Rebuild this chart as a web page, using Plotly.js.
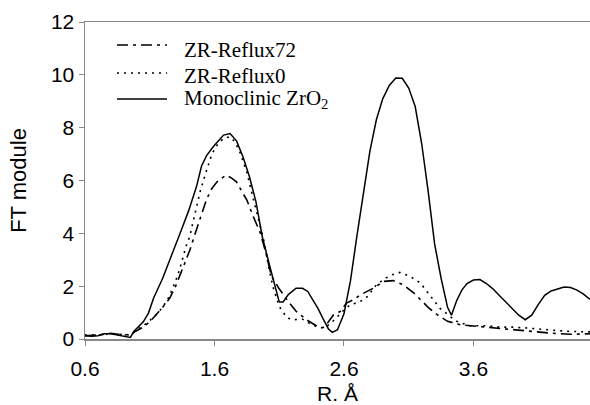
<!DOCTYPE html>
<html>
<head>
<meta charset="utf-8">
<script src="https://cdn.plot.ly/plotly-3.0.1.min.js"></script>
<style>html,body{margin:0;padding:0;background:#fff;}#chart{width:590px;height:405px;}</style>
</head>
<body>
<div id="chart"></div>
<script>
// ZR-Reflux72 (dash-dot)
const xReflux72 = [0.6,0.7,0.8,0.9,0.95,1.0,1.05,1.1,1.15,1.2,1.255,1.3,1.33,1.37,1.41,1.46,1.5,1.54,1.58,1.62,1.66,1.69,1.73,1.77,1.81,1.85,1.9,1.955,2.0,2.04,2.1,2.16,2.23,2.31,2.37,2.415,2.45,2.52,2.57,2.62,2.68,2.725,2.83,2.905,2.98,3.06,3.14,3.19,3.25,3.32,3.4,3.5,3.63,3.8,4.0,4.2,4.35,4.5];
const yReflux72 = [0.12,0.15,0.22,0.15,0.18,0.3,0.45,0.65,0.92,1.2,1.55,2.0,2.37,2.9,3.37,4.13,4.7,5.3,5.7,5.95,6.1,6.2,6.1,5.95,5.6,5.26,4.63,4.0,3.2,2.37,1.9,1.48,1.05,0.73,0.55,0.42,0.45,0.92,1.04,1.36,1.5,1.67,1.93,2.18,2.21,2.05,1.74,1.48,1.2,0.92,0.67,0.54,0.48,0.38,0.3,0.22,0.18,0.2];

// ZR-Reflux0 (dotted)
const xReflux0 = [0.6,0.7,0.8,0.9,0.95,1.0,1.05,1.1,1.15,1.2,1.25,1.3,1.33,1.38,1.41,1.45,1.49,1.54,1.58,1.62,1.67,1.72,1.76,1.8,1.85,1.9,1.95,1.98,2.02,2.05,2.1,2.16,2.21,2.28,2.33,2.4,2.45,2.5,2.55,2.6,2.65,2.72,2.78,2.85,2.92,2.97,3.03,3.11,3.19,3.24,3.29,3.34,3.42,3.47,3.57,3.7,3.8,3.9,4.0,4.1,4.2,4.3,4.4,4.5];
const yReflux0 = [0.15,0.15,0.2,0.15,0.15,0.35,0.5,0.7,0.92,1.2,1.6,2.2,2.62,3.5,3.9,4.76,5.6,6.4,7.0,7.34,7.6,7.65,7.45,7.03,6.3,5.3,4.3,3.75,2.7,2.0,1.23,0.8,0.73,0.75,0.6,0.45,0.42,0.6,0.85,1.1,1.3,1.4,1.6,2.05,2.3,2.43,2.52,2.37,2.12,1.8,1.48,1.17,0.85,0.67,0.5,0.5,0.45,0.45,0.42,0.38,0.33,0.3,0.28,0.27];

// Monoclinic ZrO2 (solid)
const xMono = [0.6,0.65,0.7,0.75,0.8,0.85,0.9,0.95,0.98,1.02,1.05,1.09,1.13,1.2,1.27,1.33,1.4,1.46,1.5,1.54,1.59,1.63,1.67,1.72,1.77,1.82,1.87,1.92,1.97,2.03,2.07,2.1,2.13,2.17,2.23,2.28,2.32,2.36,2.4,2.44,2.48,2.51,2.55,2.6,2.65,2.7,2.75,2.8,2.85,2.9,2.95,3.0,3.05,3.1,3.15,3.2,3.25,3.3,3.35,3.4,3.43,3.47,3.51,3.55,3.6,3.65,3.7,3.75,3.8,3.85,3.9,3.95,4.0,4.05,4.1,4.15,4.2,4.25,4.3,4.35,4.4,4.45,4.5];
const yMono = [0.13,0.1,0.12,0.2,0.2,0.15,0.12,0.06,0.3,0.5,0.65,0.98,1.55,2.3,3.15,3.95,4.85,5.75,6.55,6.95,7.28,7.5,7.72,7.78,7.5,6.9,6.14,5.2,3.85,2.7,1.95,1.4,1.4,1.68,1.92,1.92,1.8,1.5,1.15,0.75,0.38,0.25,0.35,0.95,2.2,3.9,5.6,7.1,8.3,9.1,9.6,9.88,9.87,9.5,8.8,7.4,5.6,3.6,2.3,1.2,0.9,1.45,1.85,2.1,2.23,2.25,2.1,1.9,1.65,1.4,1.15,0.9,0.73,0.9,1.3,1.65,1.82,1.9,1.97,1.95,1.85,1.7,1.5];

const seriesNames = ["ZR-Reflux72", "ZR-Reflux0", "Monoclinic ZrO<sub>2</sub>"];
const xTickVals = [0.6, 1.6, 2.6, 3.6];
const xTickText = ["0.6", "1.6", "2.6", "3.6"];
const yTickVals = [0, 2, 4, 6, 8, 10, 12];

const lineStyles = [
  {color: "#000", width: 1.6, dash: "11px,5px,3px,5px"},
  {color: "#000", width: 1.6, dash: "2px,5px"},
  {color: "#000", width: 1.5, dash: "solid"}
];
const xs = [xReflux72, xReflux0, xMono];
const ys = [yReflux72, yReflux0, yMono];

const traces = seriesNames.map((n, i) => ({
  x: xs[i], y: ys[i], name: n, mode: "lines", line: lineStyles[i], showlegend: false
}));

// Legend drawn as paper-positioned keys (sample line + label), Excel-style
const W = 590, H = 405, M = {l: 85, r: 0, t: 22, b: 66};
const pw = W - M.l - M.r, ph = H - M.t - M.b;
const px2x = px => (px - M.l) / pw;
const py2y = py => (H - M.b - py) / ph;
const legendSampleY = [45, 73, 99];
const legendTextY = [50, 76, 99];
const shapes = [], annotations = [];
seriesNames.forEach((n, i) => {
  shapes.push({type: "line", xref: "paper", yref: "paper",
    x0: px2x(117), x1: px2x(167), y0: py2y(legendSampleY[i]), y1: py2y(legendSampleY[i]),
    line: lineStyles[i]});
  annotations.push({xref: "paper", yref: "paper", x: px2x(182), y: py2y(legendTextY[i]),
    xanchor: "left", yanchor: "middle", showarrow: false, text: n,
    font: {family: "Liberation Serif, Times New Roman, serif", size: 21, color: "#000"}});
});

const axisColor = "#888";
const layout = {
  width: W, height: H,
  margin: M,
  paper_bgcolor: "#fff", plot_bgcolor: "#fff",
  font: {family: "Liberation Sans, Arial, sans-serif", color: "#000", size: 21},
  showlegend: false,
  shapes: shapes,
  annotations: annotations,
  xaxis: {
    range: [0.6, 4.5],
    tickmode: "array", tickvals: xTickVals, ticktext: xTickText,
    ticks: "outside", ticklen: 5, tickcolor: axisColor, tickwidth: 1,
    ticklabelstandoff: 5,
    showline: true, linecolor: axisColor, linewidth: 1.5, mirror: true,
    showgrid: false, zeroline: false,
    tickfont: {size: 21},
    title: {text: "R. Å", font: {size: 21}, standoff: 8}
  },
  yaxis: {
    range: [0, 12],
    tickmode: "array", tickvals: yTickVals,
    ticks: "outside", ticklen: 5, tickcolor: axisColor, tickwidth: 1,
    showline: true, linecolor: axisColor, linewidth: 1.5,
    showgrid: false, zeroline: false,
    tickfont: {size: 21},
    title: {text: "FT module", font: {size: 22}, standoff: 18}
  }
};

Plotly.newPlot("chart", traces, layout, {displayModeBar: false, staticPlot: true});
</script>
</body>
</html>
